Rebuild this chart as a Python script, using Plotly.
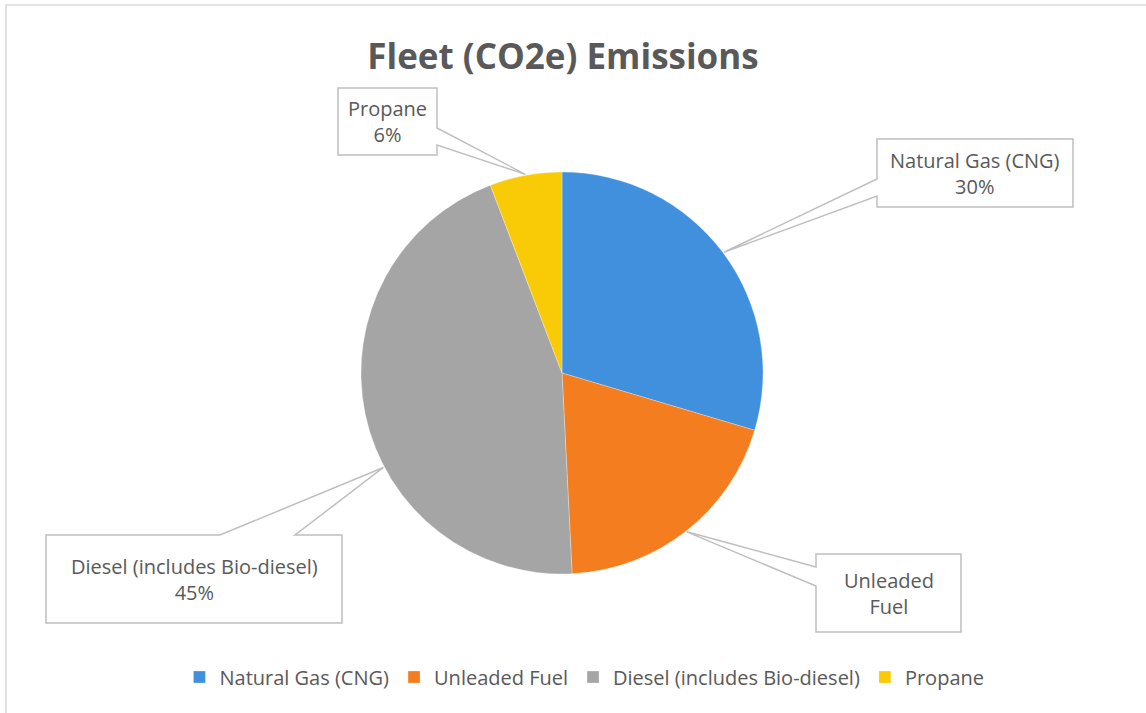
import math
import plotly.graph_objects as go

# ---- data ----
categories = ["Natural Gas (CNG)", "Unleaded Fuel", "Diesel (includes Bio-diesel)", "Propane"]
values = [29.6, 19.6, 45.0, 5.8]
label_texts = ["Natural Gas (CNG)", "Unleaded<br>Fuel", "Diesel (includes Bio-diesel)", "Propane"]
show_pct = [True, False, True, True]

# ---- style / layout ----
W, H = 1146, 713
colors = ["#4190DD", "#F47E1F", "#A5A5A5", "#F9CB07"]
txt_color = "#595959"
font_family = "Open Sans"
cx, cy, R = 562, 373, 201          # pie centre / radius in px

# callout boxes (px): x0, y0, x1, y1, wedge side, wedge base start, end, leader angle shift (deg)
boxes = [
    (877, 139, 1073, 207, "left", 179, 196, 0),
    (816, 554, 961, 632, "left", 567, 586, 0),
    (46, 535, 342, 623, "top", 220, 295, -16),
    (338, 88, 437, 155, "right", 128, 145, 0),
]


def px(x):
    return x / W


def py(y):
    return 1 - y / H


fig = go.Figure()
fig.add_trace(go.Pie(
    labels=categories,
    values=values,
    sort=False,
    direction="clockwise",
    rotation=0,
    textinfo="none",
    hoverinfo="label+percent",
    marker=dict(colors=colors, line=dict(color="rgba(255,255,255,0.35)", width=0.8)),
    domain=dict(x=[px(cx - R), px(cx + R)], y=[py(cy + R), py(cy - R)]),
    showlegend=True,
))

total = sum(values)
cum = 0.0
shapes = []
annotations = []
for i, v in enumerate(values):
    a0 = cum / total * 360
    cum += v
    a1 = cum / total * 360
    x0, y0, x1, y1, side, b0, b1, shift = boxes[i]
    mid = math.radians((a0 + a1) / 2 + shift)
    tx = cx + (R + 1) * math.sin(mid)
    ty = cy - (R + 1) * math.cos(mid)
    if side == "left":
        pts = [(x0, y0), (x1, y0), (x1, y1), (x0, y1), (x0, b1), (tx, ty), (x0, b0)]
    elif side == "right":
        pts = [(x0, y0), (x1, y0), (x1, b0), (tx, ty), (x1, b1), (x1, y1), (x0, y1)]
    else:  # top
        pts = [(x0, y0), (b0, y0), (tx, ty), (b1, y0), (x1, y0), (x1, y1), (x0, y1)]
    path = "M" + " L".join(f"{px(a):.5f},{py(b):.5f}" for a, b in pts) + " Z"
    shapes.append(dict(type="path", xref="paper", yref="paper", path=path,
                       fillcolor="white", line=dict(color="#BFBFBF", width=1.5), layer="above"))
    text = label_texts[i]
    if show_pct[i]:
        text += f"<br>{round(v / total * 100)}%"
    annotations.append(dict(x=px((x0 + x1) / 2), y=py((y0 + y1) / 2), xref="paper", yref="paper",
                            text=text, showarrow=False, xanchor="center", yanchor="middle",
                            font=dict(family=font_family, size=20, color=txt_color)))

# outer chart frame
shapes.append(dict(type="rect", xref="paper", yref="paper", x0=px(6), y0=-0.05, x1=1.05, y1=py(5),
                   line=dict(color="#D9D9D9", width=1.5), fillcolor="rgba(0,0,0,0)", layer="below"))

fig.update_layout(
    width=W, height=H,
    margin=dict(l=0, r=0, t=0, b=0),
    paper_bgcolor="white",
    plot_bgcolor="white",
    title=dict(text="<b>Fleet (CO2e) Emissions</b>", x=px(563), xanchor="center",
               y=py(57), yanchor="middle",
               font=dict(family=font_family, size=35, color=txt_color)),
    legend=dict(orientation="h", x=0.51, xanchor="center", y=py(677), yanchor="middle",
                font=dict(family=font_family, size=20, color=txt_color),
                traceorder="normal"),
    shapes=shapes,
    annotations=annotations,
)

fig.write_html("out.html")
